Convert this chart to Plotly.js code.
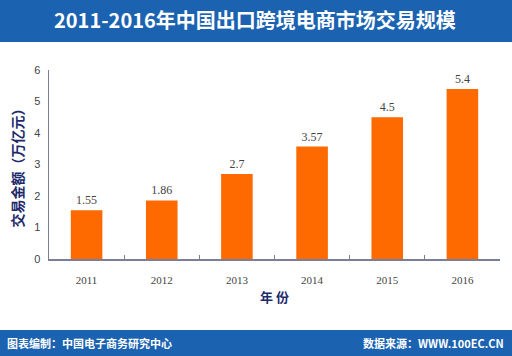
<!DOCTYPE html>
<html><head><meta charset="utf-8">
<script src="https://cdn.plot.ly/plotly-3.0.1.min.js"></script>
<style>html,body{margin:0;padding:0;background:#fff}#c{width:512px;height:356px}</style>
</head><body><div id="c"></div>
<script>
const years = ['2011','2012','2013','2014','2015','2016'];
const values = [1.55, 1.86, 2.7, 3.57, 4.5, 5.4];
const labels = ['1.55','1.86','2.7','3.57','4.5','5.4'];
const yTicks = [0,1,2,3,4,5,6];

const L=49, R=12, T=70, B=97, W=512, H=356;
const pw=W-L-R, ph=H-T-B;
const px = x => (x-L)/pw;
const py = y => (H-B-y)/ph;
const blue = '#1b62b0';
const cjk = '"Noto Sans CJK SC", "Noto Sans", sans-serif';

const trace = {
  type:'bar', x:years, y:values, text:labels, textposition:'outside',
  textfont:{family:'"Liberation Serif", serif', size:12, color:'#444'},
  marker:{color:'#ff6a00'}, cliponaxis:false, hoverinfo:'none'
};

const layout = {
  width:W, height:H, margin:{l:L,r:R,t:T,b:B},
  paper_bgcolor:'#fff', plot_bgcolor:'#fff',
  showlegend:false, bargap:0.58,
  xaxis:{type:'category', showline:true, linecolor:'#7a7f96', linewidth:1.5,
    ticks:'inside', ticklen:4, tickcolor:'#7a7f96', tickwidth:1.2, tickson:'boundaries',
    ticklabelstandoff:10,
    tickfont:{family:'"Liberation Serif", serif', size:11, color:'#444'},
    title:{text:'年 份', font:{family:cjk, size:13, color:'#1d2a6b', weight:'bold'}, standoff:8},
    showgrid:false, zeroline:false},
  yaxis:{range:[0,6], tickvals:yTicks, showline:true, linecolor:'#7a7f96', linewidth:1.5,
    ticks:'', ticklabelstandoff:5, tickfont:{family:'"Liberation Sans", sans-serif', size:11, color:'#444'},
    title:{text:'交易金额（万亿元）', font:{family:cjk, size:14, color:'#1d2a6b', weight:'bold'}, standoff:7},
    showgrid:false, zeroline:false},
  shapes:[
    {type:'rect', xref:'paper', yref:'paper', x0:px(0), x1:px(W), y0:py(0), y1:py(42), fillcolor:blue, line:{width:0}, layer:'below'},
    {type:'rect', xref:'paper', yref:'paper', x0:px(0), x1:px(W), y0:py(330), y1:py(H), fillcolor:blue, line:{width:0}, layer:'below'}
  ],
  annotations:[
    {text:'<b>2011-2016年中国出口跨境电商市场交易规模</b>', xref:'paper', yref:'paper', x:px(255), y:py(20), showarrow:false,
      xanchor:'center', yanchor:'middle', font:{family:cjk, size:20, color:'#fff'}},
    {text:'<b>图表编制：中国电子商务研究中心</b>', xref:'paper', yref:'paper', x:px(5), y:py(343), showarrow:false,
      xanchor:'left', yanchor:'middle', font:{family:cjk, size:11, color:'#fff'}},
    {text:'<b>数据来源：WWW.100EC.CN</b>', xref:'paper', yref:'paper', x:px(506), y:py(343), showarrow:false,
      xanchor:'right', yanchor:'middle', font:{family:cjk, size:11, color:'#fff'}}
  ]
};
Plotly.newPlot('c',[trace],layout,{staticPlot:true,displayModeBar:false});
</script></body></html>
